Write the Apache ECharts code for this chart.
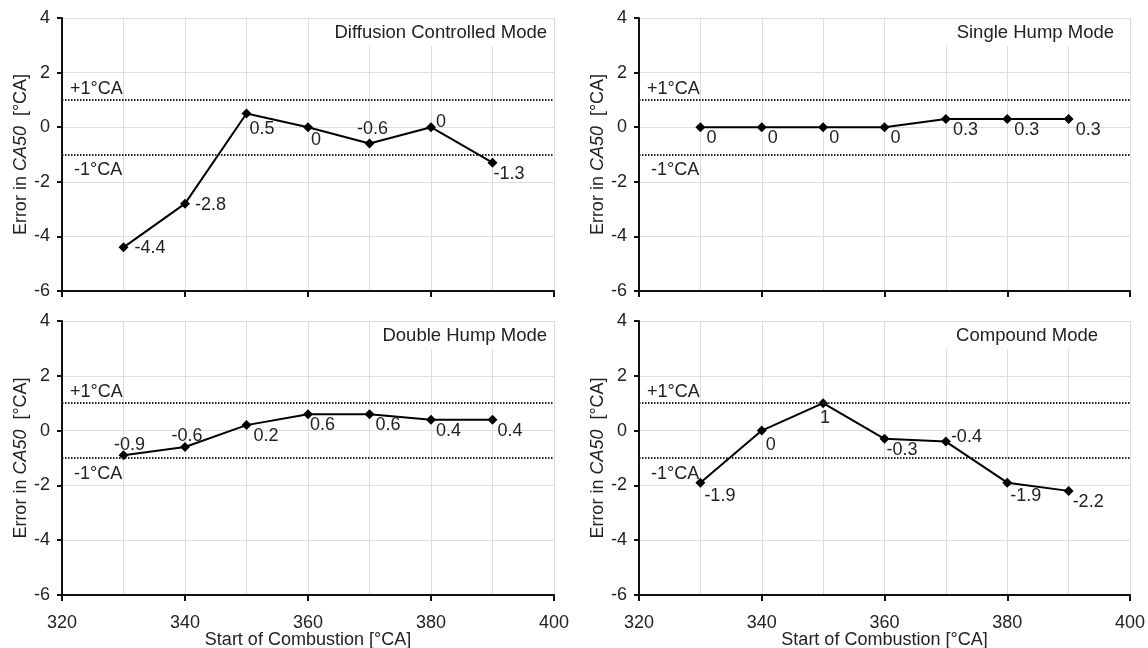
<!DOCTYPE html>
<html>
<head>
<meta charset="utf-8">
<script src="https://cdn.jsdelivr.net/npm/echarts@6/dist/echarts.min.js"></script>
<style>
html,body{margin:0;padding:0;background:#fff;}
#chart{width:1148px;height:648px;}
</style>
</head>
<body>
<div id="chart"></div>
<script>
// ---- data ----
const socValues = [330, 340, 350, 360, 370, 380, 390];
const diffusionControlled = [-4.4, -2.8, 0.5, 0, -0.6, 0, -1.3];
const singleHump = [0, 0, 0, 0, 0.3, 0.3, 0.3];
const doubleHump = [-0.9, -0.6, 0.2, 0.6, 0.6, 0.4, 0.4];
const compound = [-1.9, 0, 1, -0.3, -0.4, -1.9, -2.2];
const panelTitles = ['Diffusion Controlled Mode', 'Single Hump Mode', 'Double Hump Mode', 'Compound Mode'];
const thresholds = [1, -1];
const thresholdLabels = ['+1°CA', '-1°CA'];
const xAxisTitle = 'Start of Combustion [°CA]';
const yAxisTitle = 'Error in {i|CA50}  [°CA]';
const xMin = 320, xMax = 400, xStep = 20;
const yMin = -6, yMax = 4, yStep = 2;

// ---- layout / style (not data) ----
const FONT = '"Liberation Sans", Arial, sans-serif';
const panels = [
  {vals: diffusionControlled, left: 62, top: 18, width: 492, height: 273, bottom: false, titleRight: 595, titleTop: 19},
  {vals: singleHump, left: 639, top: 18, width: 491, height: 273, bottom: false, titleRight: 28, titleTop: 19},
  {vals: doubleHump, left: 62, top: 321, width: 492, height: 274, bottom: true, titleRight: 595, titleTop: 322},
  {vals: compound, left: 639, top: 321, width: 491, height: 274, bottom: true, titleRight: 44, titleTop: 322}
];
const labelPlacement = [
  [['right',1,1],['right',0,1],['right',-7,15],['right',-7,13],['top',3,4],['right',-5,-5],['right',-9,11]],
  [['right',-4,11],['right',-4,11],['right',-4,11],['right',-4,11],['right',-3,11],['right',-3,11],['right',-3,11]],
  [['top',6,9],['top',2,8],['right',-3,11],['right',-8,11],['right',-4,11],['right',-5,11],['right',-5,11]],
  [['right',-6,13],['right',-6,14],['bottom',2,-4],['right',-8,11],['right',-5,-5],['right',-7,13],['right',-6,11]]
];

const grid = [], xAxis = [], yAxis = [], series = [], title = [];
panels.forEach((p, k) => {
  grid.push({left: p.left, top: p.top, width: p.width, height: p.height,
    containLabel: false, outerBoundsMode: 'none'});
  title.push({
    text: panelTitles[k], right: p.titleRight, top: p.titleTop,
    backgroundColor: '#fff', padding: [4, 6, 4, 12],
    textStyle: {fontFamily: FONT, fontSize: 18.5, fontWeight: 'normal', color: '#222'}
  });
  xAxis.push({
    type: 'value', gridIndex: k, min: xMin, max: xMax, interval: xStep,
    name: p.bottom ? xAxisTitle : '', nameLocation: 'middle', nameGap: 36,
    nameMoveOverlap: false,
    nameTextStyle: {fontFamily: FONT, fontSize: 18, color: '#222'},
    axisLine: {show: true, onZero: false, lineStyle: {color: '#111', width: 2}},
    axisTick: {show: true, inside: false, length: 6, lineStyle: {color: '#111', width: 2}},
    axisLabel: {show: p.bottom, fontFamily: FONT, fontSize: 18, color: '#222', margin: 19},
    splitLine: {show: true, lineStyle: {color: '#ddd', width: 1}},
    minorTick: {show: false, splitNumber: 2},
    minorSplitLine: {show: true, lineStyle: {color: '#ddd', width: 1}}
  });
  yAxis.push({
    type: 'value', gridIndex: k, min: yMin, max: yMax, interval: yStep,
    name: yAxisTitle, nameLocation: 'middle', nameGap: 32,
    nameMoveOverlap: false,
    nameTextStyle: {fontFamily: FONT, fontSize: 18, color: '#222',
      rich: {i: {fontFamily: FONT, fontSize: 18, fontStyle: 'italic', color: '#222'}}},
    axisLine: {show: true, onZero: false, lineStyle: {color: '#111', width: 2}},
    axisTick: {show: true, inside: false, length: 5, lineStyle: {color: '#111', width: 2}},
    axisLabel: {fontFamily: FONT, fontSize: 18, color: '#222', margin: 12},
    splitLine: {show: true, lineStyle: {color: '#ddd', width: 1}}
  });
  series.push({
    type: 'line', xAxisIndex: k, yAxisIndex: k,
    symbol: 'diamond', symbolSize: 10,
    lineStyle: {color: '#000', width: 2},
    itemStyle: {color: '#000'},
    label: {show: true, fontFamily: FONT, fontSize: 18, color: '#222',
      formatter: (pr) => String(pr.value[1])},
    data: socValues.map((x, i) => {
      const lp = labelPlacement[k][i];
      return {value: [x, p.vals[i]], label: {position: lp[0], offset: [lp[1], lp[2]]}};
    }),
    markLine: {
      silent: true, symbol: 'none', animation: false,
      lineStyle: {type: [1.5, 1.5], color: '#222', width: 1.8},
      data: thresholds.map((t, i) => ({
        yAxis: t,
        label: {show: true, formatter: thresholdLabels[i],
          position: i === 0 ? 'insideStartTop' : 'insideStartBottom',
          distance: 4, offset: i === 0 ? [4, 2] : [8, 3],
          fontFamily: FONT, fontSize: 18, color: '#222'}
      }))
    },
    z: 3
  });
});

const chart = echarts.init(document.getElementById('chart'), null, {renderer: 'canvas'});
chart.setOption({
  animation: false,
  backgroundColor: '#fff',
  title, grid, xAxis, yAxis, series
});
</script>
</body>
</html>
